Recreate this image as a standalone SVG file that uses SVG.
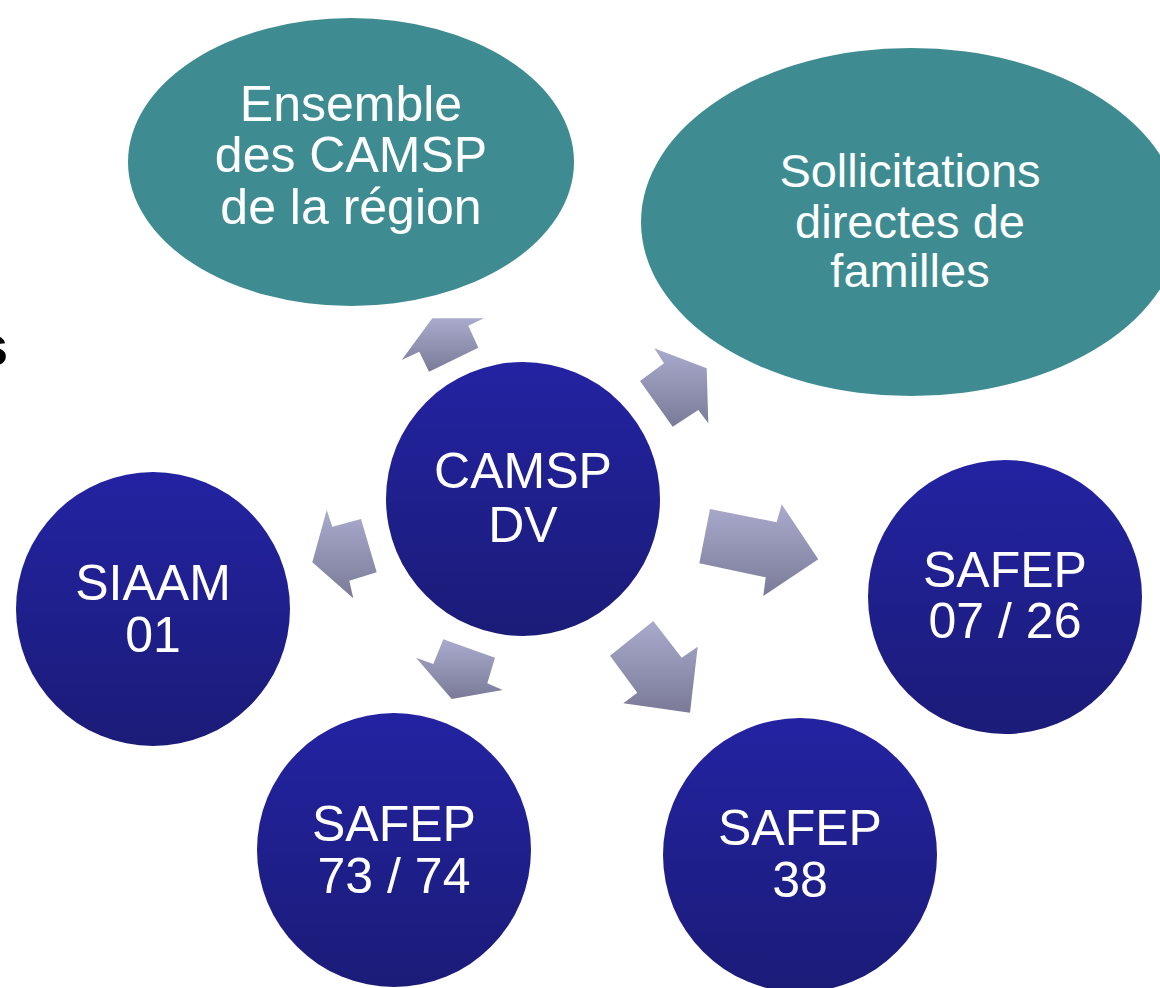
<svg xmlns="http://www.w3.org/2000/svg" width="1160" height="988" viewBox="0 0 1160 988">
<defs>
<linearGradient id="gCircle" x1="0" y1="0" x2="0" y2="1">
<stop offset="0" stop-color="#2323a2"/>
<stop offset="1" stop-color="#1b1b78"/>
</linearGradient>
<linearGradient id="gArrow" x1="0" y1="0" x2="0" y2="1">
<stop offset="0" stop-color="#aaaacd"/>
<stop offset="1" stop-color="#7a7a98"/>
</linearGradient>
<style>
.circle{fill:url(#gCircle);}
.oval{fill:#3e8c91;}
.arrow{fill:url(#gArrow);}
.lbl{font-family:"Liberation Sans",Arial,sans-serif;font-size:50px;fill:#ffffff;text-anchor:middle;}
.lblo{font-family:"Liberation Sans",Arial,sans-serif;font-size:47px;fill:#ffffff;text-anchor:middle;}
.side{font-family:"Liberation Sans",Arial,sans-serif;font-size:56px;font-weight:bold;fill:#000000;}
</style>
</defs>
<rect width="1160" height="988" fill="#ffffff"/>
<text class="side" x="-23" y="365">s</text>
<g id="connectors">
<polygon class="arrow" points="432.3,318.3 484,318.3 468.3,325.7 478.3,347.7 429,371.7 419.3,351.7 401.7,360"/>
<polygon class="arrow" points="654.3,348.3 706.7,368.3 708.3,423.3 698.3,410 672.7,426.7 640,381 664,363.3"/>
<polygon class="arrow" points="710,509 776.7,522.3 781.7,504.3 818.3,559.3 763.3,596 765.7,577.3 699.3,563.3"/>
<polygon class="arrow" points="653.3,621 681.7,657.7 697.7,646.7 690,712.7 623.3,703.3 637.3,692.7 610,655.7"/>
<polygon class="arrow" points="443.3,639.3 495,657.7 487.3,683.3 502.7,690 451.7,699 416,657.7 433.3,664"/>
<polygon class="arrow" points="326.7,510 332.3,526.7 361,519 376.7,572.3 349.3,580.7 353.3,598.3 312.3,562.3"/>
</g>
<g id="ensemble">
<ellipse class="oval" cx="351" cy="162" rx="223" ry="144"/>
<text class="lbl" x="351" y="121">Ensemble</text>
<text class="lbl" x="351" y="172">des CAMSP</text>
<text class="lbl" x="351" y="224">de la région</text>
</g>
<g id="sollicitations">
<ellipse class="oval" cx="911" cy="222" rx="270" ry="174"/>
<text class="lblo" x="910" y="187">Sollicitations</text>
<text class="lblo" x="910" y="238">directes de</text>
<text class="lblo" x="910" y="287">familles</text>
</g>
<g id="camsp">
<circle class="circle" cx="523" cy="499" r="137"/>
<text class="lbl" x="523" y="488">CAMSP</text>
<text class="lbl" x="523" y="542">DV</text>
</g>
<g id="siaam">
<circle class="circle" cx="153" cy="609" r="137"/>
<text class="lbl" x="153" y="600">SIAAM</text>
<text class="lbl" x="153" y="652">01</text>
</g>
<g id="safep0726">
<circle class="circle" cx="1005" cy="597" r="137"/>
<text class="lbl" x="1005" y="587">SAFEP</text>
<text class="lbl" x="1005" y="638">07 / 26</text>
</g>
<g id="safep7374">
<circle class="circle" cx="394" cy="850" r="137"/>
<text class="lbl" x="394" y="841">SAFEP</text>
<text class="lbl" x="394" y="893">73 / 74</text>
</g>
<g id="safep38">
<circle class="circle" cx="800" cy="855" r="137"/>
<text class="lbl" x="800" y="845">SAFEP</text>
<text class="lbl" x="800" y="897">38</text>
</g>
</svg>
